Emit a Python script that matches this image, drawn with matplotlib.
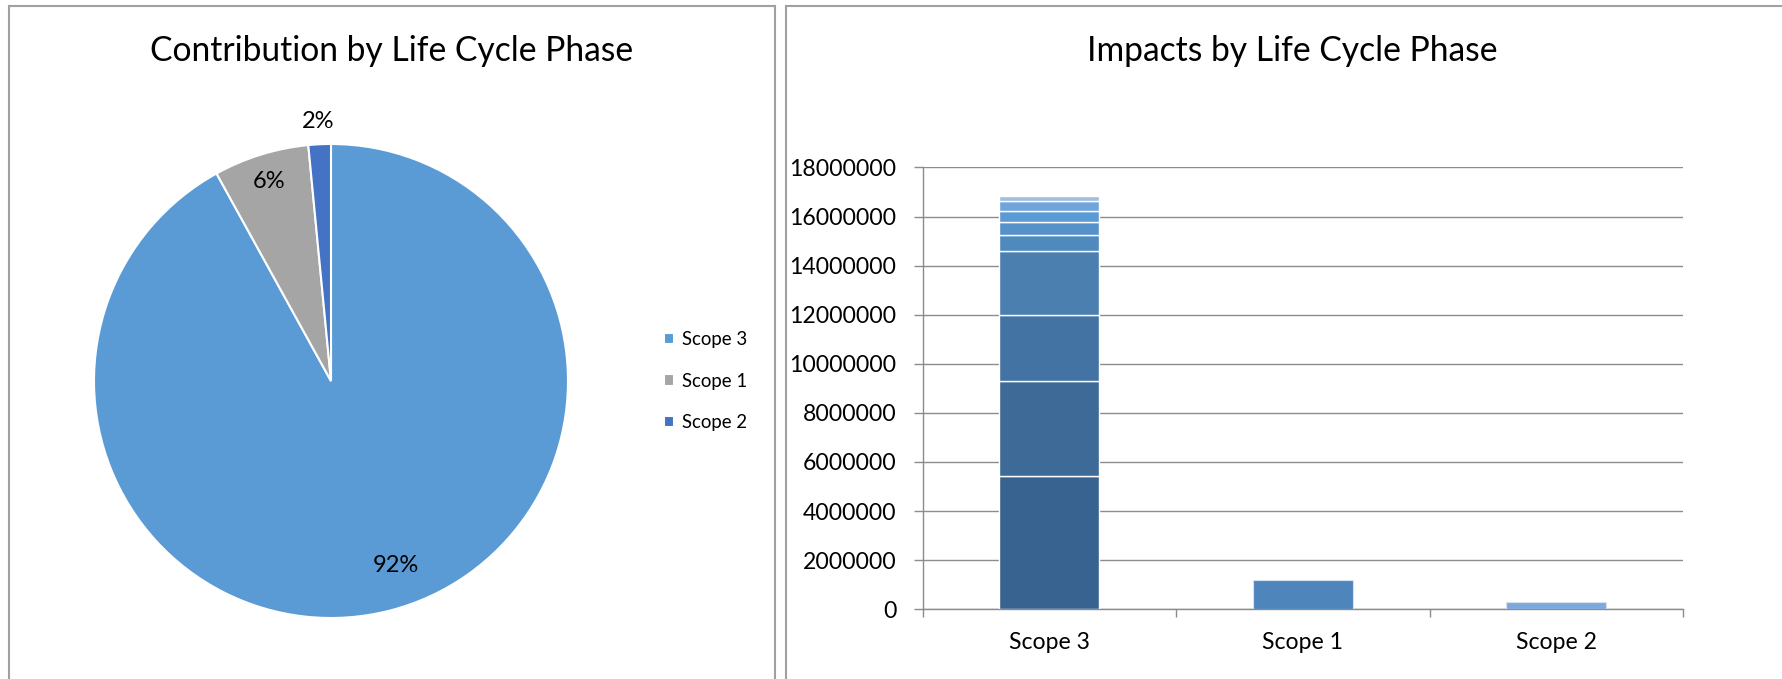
import matplotlib
matplotlib.use("Agg")
import matplotlib.pyplot as plt
import numpy as np
from matplotlib.patches import Rectangle

plt.rcParams['font.family'] = ['Lato', 'DejaVu Sans']

# ---- data ----
categories = ["Scope 3", "Scope 1", "Scope 2"]
scope3_parts = [5440000, 3860000, 2700000, 2600000, 630000, 550000, 430000, 420000, 220000]
scope1_value = 1190000
scope2_value = 280000
yticks = [0, 2000000, 4000000, 6000000, 8000000, 10000000, 12000000, 14000000, 16000000, 18000000]

scope3_colors = ["#386390", "#3D6A96", "#4273A2", "#4A7FB0", "#4F8ABF",
                 "#5592CA", "#5B9BD5", "#70A5DA", "#A0BEE3"]
scope1_color = "#4E86BC"
scope2_color = "#7EA9DC"
pie_colors = ["#5B9BD5", "#A5A5A5", "#4472C4"]

W, H = 1782, 679
fig = plt.figure(figsize=(W / 100, H / 100), dpi=100)
fig.patch.set_facecolor("white")

def fx(px):
    return px / W

def fy(py):
    return 1 - py / H

# panel frames
border = "#A0A0A0"
fig.add_artist(Rectangle((fx(9), fy(700)), fx(775 - 9), fy(6) - fy(700),
                         transform=fig.transFigure, fill=False, edgecolor=border, lw=1.5))
fig.add_artist(Rectangle((fx(786), fy(700)), fx(1850 - 786), fy(6) - fy(700),
                         transform=fig.transFigure, fill=False, edgecolor=border, lw=1.5))

# ---- pie ----
totals = [sum(scope3_parts), scope1_value, scope2_value]
share = np.array(totals) / sum(totals)
pct_labels = [f"{round(s * 100):.0f}%" for s in share]

cx, cy, r = 331, 381, 237
ax_pie = fig.add_axes([fx(cx - r), fy(cy + r), fx(2 * r), fy(cy - r) - fy(cy + r)])
wedges, _ = ax_pie.pie(totals, colors=pie_colors, startangle=90, counterclock=False,
                       wedgeprops=dict(edgecolor="white", linewidth=1.5))
ax_pie.set_xlim(-1, 1)
ax_pie.set_ylim(-1, 1)
ax_pie.set_aspect("equal")

# label placement: (angle offset from wedge middle in degrees, radius)
label_place = [(5.0, 0.825), (0.0, 0.88), (0.0, 1.095)]
for w, lab, (dang, rad) in zip(wedges, pct_labels, label_place):
    mid = np.deg2rad((w.theta1 + w.theta2) / 2 + dang)
    ax_pie.text(rad * np.cos(mid), rad * np.sin(mid), lab, ha="center", va="center",
                fontsize=17, color="black")

fig.text(fx(392), fy(51), "Contribution by Life Cycle Phase", ha="center", va="center",
         fontsize=24.2, color="black")

leg = fig.legend(wedges, categories, loc="center left",
                 bbox_to_anchor=(fx(664), fy(381)), frameon=False,
                 fontsize=13.4, handlelength=0.55, handleheight=0.55,
                 handletextpad=0.4, labelspacing=1.3, borderaxespad=0, borderpad=0)

# ---- stacked bars ----
ax = fig.add_axes([fx(922.7), fy(609.3), fx(1683 - 922.7), fy(167.4) - fy(609.3)])
x = np.arange(len(categories))
bw = 0.395
bottom = 0
for v, c in zip(scope3_parts, scope3_colors):
    ax.bar(x[0], v, bw, bottom=bottom, color=c, edgecolor="white", linewidth=1.0, zorder=3)
    bottom += v
ax.bar(x[1], scope1_value, bw, color=scope1_color, edgecolor="#D6E2EF", linewidth=0.8, zorder=3)
ax.bar(x[2], scope2_value, bw, color=scope2_color, edgecolor="#D6E2EF", linewidth=0.8, zorder=3)

ax.set_xlim(-0.5, len(categories) - 0.5)
ax.set_ylim(0, 18000000)
ax.set_yticks(yticks)
ax.set_yticklabels([str(t) for t in yticks])
ax.set_xticks(x)
ax.set_xticklabels(categories)
ax.set_xticks(np.arange(len(categories) + 1) - 0.5, minor=True)

grid_c = "#8C8C8C"
ax.yaxis.grid(True, color=grid_c, linewidth=1.0, zorder=0)
ax.set_axisbelow(True)
for s in ["top", "right"]:
    ax.spines[s].set_visible(False)
ax.spines["left"].set_color(grid_c)
ax.spines["bottom"].set_color(grid_c)
ax.spines["left"].set_linewidth(1.0)
ax.spines["bottom"].set_linewidth(1.0)
ax.tick_params(axis="y", direction="out", length=6.5, width=1.0, color=grid_c,
               pad=12.5, labelsize=16.6)
ax.tick_params(axis="x", which="major", length=0, pad=16, labelsize=16.6)
ax.tick_params(axis="x", which="minor", direction="out", length=6, width=1.0, color=grid_c)

fig.text(fx(1292), fy(51), "Impacts by Life Cycle Phase", ha="center", va="center",
         fontsize=24.2, color="black")

fig.savefig("out.png", dpi=100, facecolor="white")
